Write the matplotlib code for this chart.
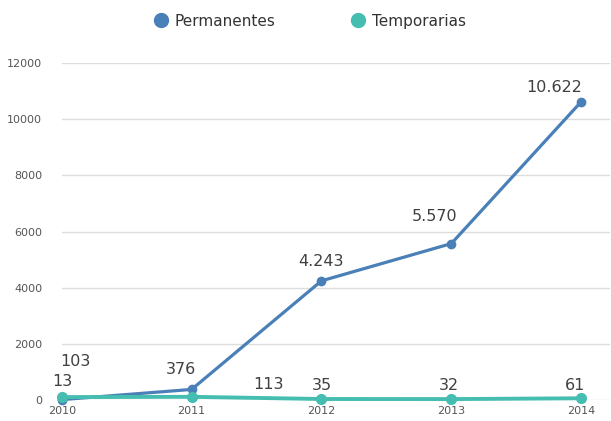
import matplotlib.pyplot as plt
from matplotlib.lines import Line2D

years = [2010, 2011, 2012, 2013, 2014]
permanentes = [13, 376, 4243, 5570, 10622]
temporarias = [103, 113, 35, 32, 61]
perm_labels = ['13', '376', '4.243', '5.570', '10.622']
temp_labels = ['103', '113', '35', '32', '61']

blue = '#4a80b8'
teal = '#45bdb0'
grey = '#555555'

# label offsets in pixels (dx, dy)
perm_off = [(1, 11), (-11, 12), (0, 12), (-17, 20), (-27, 7)]
temp_off = [(14, 28), (77, 5), (0, 6), (-2, 6), (-6, 5)]

fig = plt.figure(figsize=(6.11, 4.21), dpi=100)
ax = fig.add_axes([0.101, 0.0499, 0.897, 0.8004])

ax.plot(years, permanentes, '-o', color=blue, lw=2.3, ms=6, clip_on=False, zorder=3)
ax.plot(years, temporarias, '-o', color=teal, lw=2.8, ms=7, clip_on=False, zorder=4)

for x, y, t, o in zip(years, permanentes, perm_labels, perm_off):
    ax.annotate(t, (x, y), xytext=o, textcoords='offset pixels', ha='center',
                va='bottom', fontsize=11.5, color='#404040')
for x, y, t, o in zip(years, temporarias, temp_labels, temp_off):
    ax.annotate(t, (x, y), xytext=o, textcoords='offset pixels', ha='center',
                va='bottom', fontsize=11.5, color='#404040')

ax.set_xlim(2010, 2014.22)
ax.set_ylim(0, 12000)
ax.set_xticks(years)
ax.set_yticks(range(0, 12001, 2000))
ax.grid(axis='y', color='#dddddd', lw=1)
ax.set_axisbelow(True)
for s in ax.spines.values():
    s.set_visible(False)
ax.tick_params(length=0, labelsize=8, colors=grey)
ax.tick_params(axis='y', pad=14)
ax.tick_params(axis='x', pad=4)

handles = [Line2D([], [], marker='o', ls='', color=blue, ms=10),
           Line2D([], [], marker='o', ls='', color=teal, ms=10)]
fig.legend(handles, ['Permanentes', 'Temporarias'], loc='center',
           bbox_to_anchor=(0.507, 0.95), ncol=2, frameon=False, fontsize=11,
           handletextpad=0.4, handlelength=1.0, columnspacing=4.9,
           labelcolor='#333333')

fig.savefig('out.png', dpi=100)
